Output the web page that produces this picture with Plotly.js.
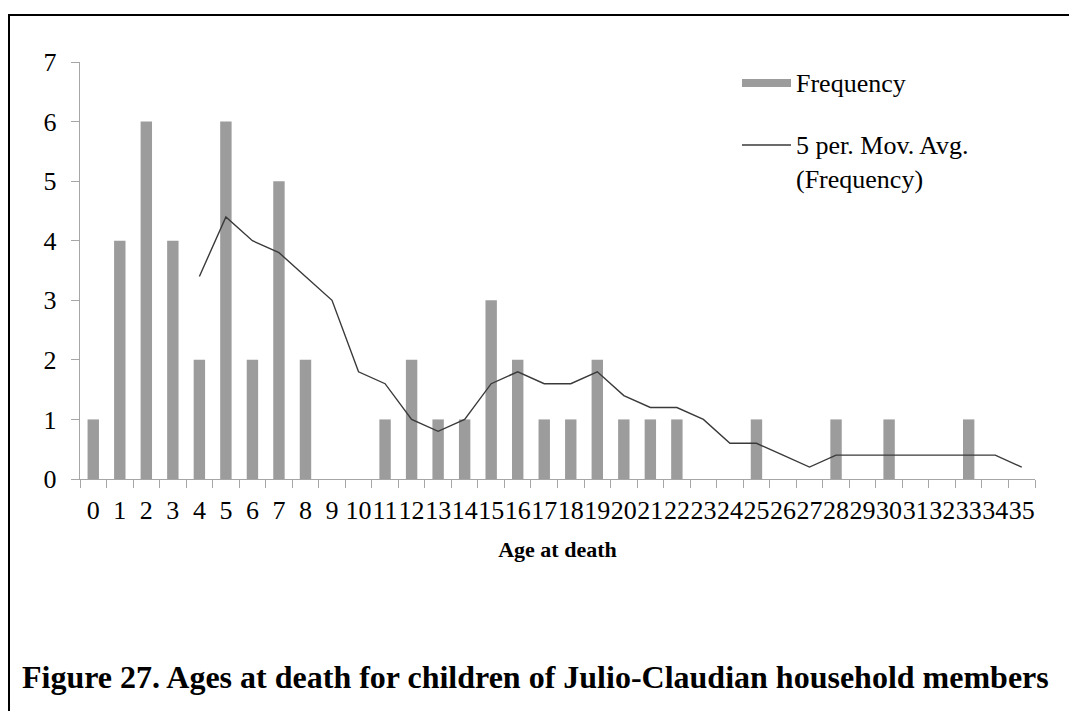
<!DOCTYPE html>
<html>
<head>
<meta charset="utf-8">
<script src="https://cdn.plot.ly/plotly-3.0.1.min.js"></script>
<style>html,body{margin:0;padding:0;background:#fff;}#chart{width:1069px;height:711px;}</style>
</head>
<body>
<div id="chart"></div>
<script>
// Data
var ages = ["0","1","2","3","4","5","6","7","8","9","10","11","12","13","14","15","16","17","18","19","20","21","22","23","24","25","26","27","28","29","30","31","32","33","34","35"];
var frequency = [1,4,6,4,2,6,2,5,2,0,0,1,2,1,1,3,2,1,1,2,1,1,1,0,0,1,0,0,1,0,1,0,0,1,0,0];
var movAvgAges = ["4","5","6","7","8","9","10","11","12","13","14","15","16","17","18","19","20","21","22","23","24","25","26","27","28","29","30","31","32","33","34","35"];
var movAvg = [3.4,4.4,4.0,3.8,3.4,3.0,1.8,1.6,1.0,0.8,1.0,1.6,1.8,1.6,1.6,1.8,1.4,1.2,1.2,1.0,0.6,0.6,0.4,0.2,0.4,0.4,0.4,0.4,0.4,0.4,0.4,0.2];
var yTicks = [0,1,2,3,4,5,6,7];
var seriesNames = ["Frequency", "5 per. Mov. Avg.<br>(Frequency)"];

var FONT = "'Liberation Serif', 'Times New Roman', serif";
var BAR_COLOR = "#9c9c9c", LINE_COLOR = "#3a3a3a", AXIS_COLOR = "#a6a6a6";
var L = 80, R = 34, T = 62, B = 232, W = 1069, H = 711;
var pw = W - L - R, ph = H - T - B;
function px(x){ return (x - L) / pw; }
function py(y){ return (H - B - y) / ph; }

var traces = [
  {
    type: "bar", x: ages, y: frequency, name: seriesNames[0],
    marker: {color: BAR_COLOR, line: {width: 0}}
  },
  {
    type: "scatter", mode: "lines", x: movAvgAges, y: movAvg,
    name: seriesNames[1],
    line: {color: LINE_COLOR, width: 1.4}
  }
];

var layout = {
  width: W, height: H,
  margin: {l: L, r: R, t: T, b: B},
  paper_bgcolor: "#fff", plot_bgcolor: "#fff",
  font: {family: FONT, color: "#000", size: 26},
  showlegend: false,
  bargap: 0.57,
  xaxis: {
    type: "category", categoryorder: "array", categoryarray: ages,
    tickmode: "linear", tick0: 0, dtick: 1, tickangle: 0,
    tickson: "boundaries", ticks: "outside", ticklen: 8, tickcolor: AXIS_COLOR,
    ticklabelstandoff: 7,
    showline: true, linecolor: AXIS_COLOR, linewidth: 1.3,
    showgrid: false, zeroline: false,
    tickfont: {family: FONT, size: 26, color: "#000"},
    title: {text: "<b>Age at death</b>", font: {family: FONT, size: 22, color: "#000"}, standoff: 18},
    range: [-0.5, 35.5]
  },
  yaxis: {
    range: [0, 7], tickvals: yTicks, ticktext: yTicks.map(String),
    ticks: "outside", ticklen: 8, tickcolor: AXIS_COLOR,
    ticklabelstandoff: 9,
    showline: true, linecolor: AXIS_COLOR, linewidth: 1.3,
    showgrid: false, zeroline: false,
    tickfont: {family: FONT, size: 26, color: "#000"}
  },
  shapes: [
    {type: "rect", xref: "paper", yref: "paper",
     x0: px(9), x1: px(1100), y0: py(15), y1: py(760),
     line: {color: "#000", width: 2}, fillcolor: "rgba(0,0,0,0)", layer: "below"},
    // legend swatches
    {type: "rect", xref: "paper", yref: "paper",
     x0: px(742), x1: px(791), y0: py(79), y1: py(87),
     line: {width: 0}, fillcolor: BAR_COLOR},
    {type: "line", xref: "paper", yref: "paper",
     x0: px(742), x1: px(791), y0: py(145), y1: py(145),
     line: {color: LINE_COLOR, width: 1.4}}
  ],
  annotations: [
    {xref: "paper", yref: "paper", x: px(794), y: py(83), xanchor: "left", yanchor: "middle",
     text: seriesNames[0], showarrow: false, font: {family: FONT, size: 26, color: "#000"}},
    {xref: "paper", yref: "paper", x: px(794), y: py(129), xanchor: "left", yanchor: "top",
     text: seriesNames[1], align: "left", showarrow: false, font: {family: FONT, size: 26, color: "#000"}},
    {xref: "paper", yref: "paper", x: px(20), y: py(677), xanchor: "left", yanchor: "middle",
     text: "<b>Figure 27. Ages at death for children of Julio-Claudian household members</b>",
     showarrow: false, font: {family: FONT, size: 32, color: "#000"}}
  ]
};

Plotly.newPlot("chart", traces, layout, {displayModeBar: false, staticPlot: true});
</script>
</body>
</html>
